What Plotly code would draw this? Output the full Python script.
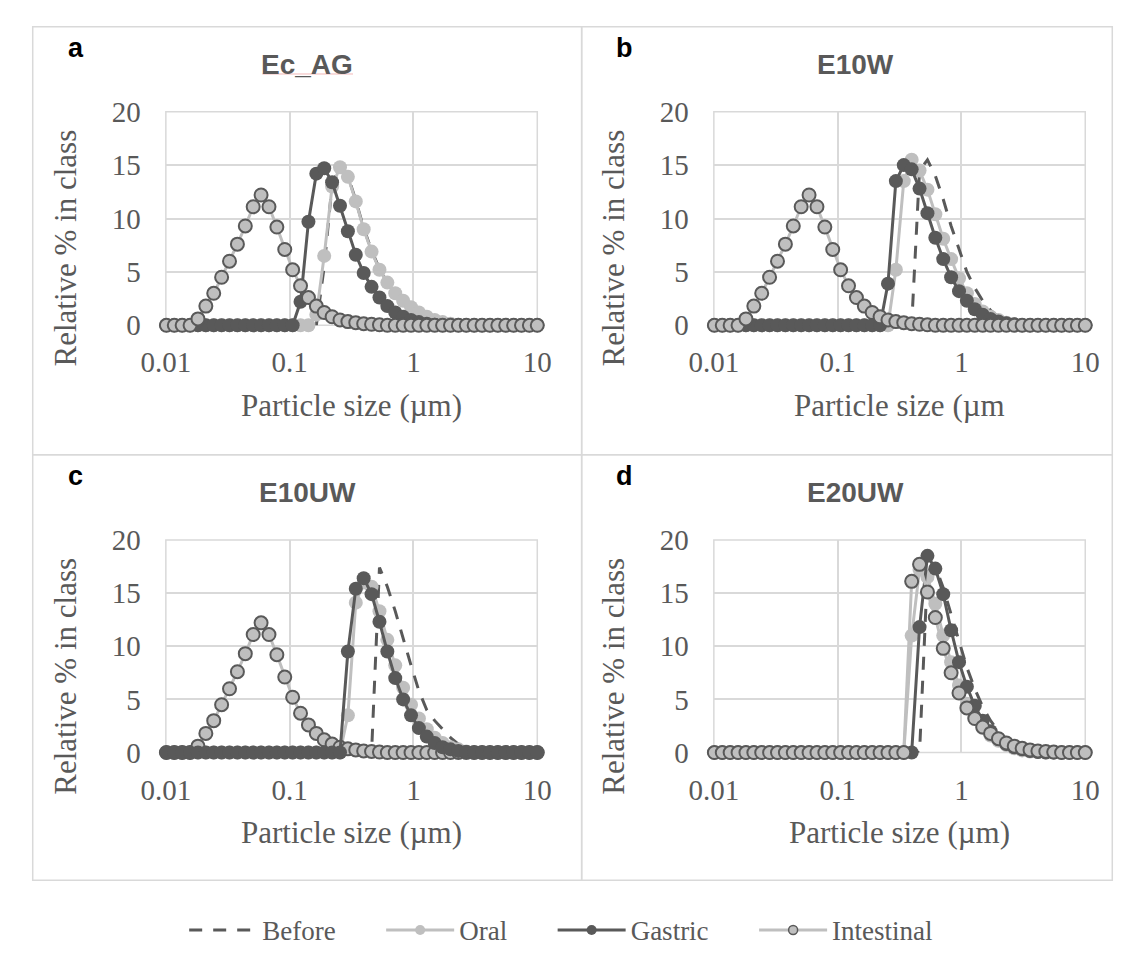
import plotly.graph_objects as go

# Size classes (um) of the particle size analyser, 0.01 - 10 um
size_um = [0.0101, 0.0117, 0.01354, 0.01569, 0.01817, 0.02104, 0.02436, 0.02821,
           0.03267, 0.03784, 0.04382, 0.05075, 0.05877, 0.06806, 0.07882, 0.09128,
           0.1057, 0.1224, 0.1418, 0.1642, 0.1901, 0.2202, 0.2550, 0.2953,
           0.3420, 0.3961, 0.4587, 0.5312, 0.6151, 0.7124, 0.8250, 0.9554,
           1.106, 1.281, 1.484, 1.718, 1.990, 2.305, 2.669, 3.091,
           3.580, 4.145, 4.801, 5.560, 6.439, 7.456, 8.635, 10.0]

def pad(vals, start):
    """Zero-filled distribution over all size classes, nonzero values from index `start`."""
    out = [0.0] * len(size_um)
    for i, v in enumerate(vals):
        out[start + i] = v
    return out

intestinal_small = pad([0.6, 1.8, 3.0, 4.5, 6.0, 7.6, 9.3, 11.1, 12.2, 11.1, 9.2, 7.1, 5.2,
                        3.7, 2.6, 1.8, 1.2, 0.8, 0.5, 0.35, 0.25, 0.15, 0.1, 0.05], 4)

# a: Ec_AG
before_a = pad([5.5, 13.2, 15.0, 14.0, 11.7, 9.1, 7.0, 5.3, 4.0, 3.0, 2.3, 1.7, 1.2,
                0.8, 0.5, 0.3, 0.15, 0.05], 20)
oral_a = pad([1.0, 6.5, 13.0, 14.8, 13.9, 11.6, 9.0, 6.9, 5.2, 4.0, 3.0, 2.3, 1.7, 1.2,
              0.8, 0.5, 0.3, 0.15, 0.05], 19)
gastric_a = pad([2.2, 9.7, 14.2, 14.7, 13.4, 11.2, 8.8, 6.6, 4.9, 3.6, 2.6, 1.8, 1.2,
                 0.8, 0.5, 0.3, 0.15, 0.05], 17)
intestinal_a = intestinal_small

# b: E10W
before_b = pad([14.5, 15.5, 14.0, 11.8, 9.3, 7.1, 5.0, 3.5, 2.3, 1.4, 0.8, 0.4, 0.2, 0.05], 26)
oral_b = pad([5.2, 13.5, 15.5, 14.5, 12.7, 10.4, 8.1, 6.2, 4.4, 3.0, 2.0, 1.3, 0.8, 0.5,
              0.25, 0.1], 23)
gastric_b = pad([3.9, 13.5, 15.0, 14.6, 12.8, 10.5, 8.2, 6.2, 4.5, 3.2, 2.3, 1.5, 1.0,
                 0.6, 0.35, 0.2, 0.1], 22)
intestinal_b = intestinal_small

# c: E10UW
before_c = pad([17.4, 15.6, 13.3, 10.7, 8.2, 5.8, 4.0, 3.0, 2.2, 1.4, 0.8, 0.3, 0.1], 27)
oral_c = pad([3.5, 14.1, 16.0, 15.6, 13.3, 10.6, 8.2, 6.1, 4.5, 3.2, 2.2, 1.4, 0.9, 0.5,
              0.3, 0.1], 23)
gastric_c = pad([9.5, 15.4, 16.4, 14.9, 12.3, 9.5, 7.0, 5.0, 3.5, 2.3, 1.5, 0.9, 0.5,
                 0.3, 0.15, 0.05], 23)
intestinal_c = intestinal_small

# d: E20UW
before_d = pad([17.0, 17.5, 15.5, 13.0, 10.4, 8.0, 6.0, 4.3, 3.0, 2.0, 1.3, 0.8, 0.4,
                0.2, 0.1], 27)
oral_d = pad([11.0, 17.2, 16.5, 14.0, 11.0, 8.5, 6.3, 4.6, 3.3, 2.3, 1.6, 1.1, 0.7, 0.4,
              0.2, 0.1, 0.05], 25)
gastric_d = pad([11.8, 18.5, 17.3, 14.9, 11.5, 8.5, 6.2, 4.4, 3.0, 2.0, 1.3, 0.8, 0.5,
                 0.3, 0.15, 0.05], 26)
intestinal_d = pad([16.1, 17.7, 15.1, 12.7, 9.8, 7.5, 5.6, 4.2, 3.2, 2.4, 1.8, 1.3, 0.9,
                    0.6, 0.4, 0.25, 0.15, 0.1, 0.05], 25)

panel_letters = ["a", "b", "c", "d"]
panel_titles = ["Ec_AG", "E10W", "E10UW", "E20UW"]
x_titles = ["Particle size (\u00b5m)", "Particle size (\u00b5m", "Particle size (\u00b5m)",
            "Particle size (\u00b5m)"]
y_title = "Relative % in class"
x_tickvals = [0.01, 0.1, 1, 10]
x_ticktext = ["0.01", "0.1", "1", "10"]
series_names = ["Before", "Oral", "Gastric", "Intestinal"]
panel_data = [
    [before_a, oral_a, gastric_a, intestinal_a],
    [before_b, oral_b, gastric_b, intestinal_b],
    [before_c, oral_c, gastric_c, intestinal_c],
    [before_d, oral_d, gastric_d, intestinal_d],
]
# drawing order of the series (last one on top)
draw_order = [[0, 1, 2, 3], [0, 1, 2, 3], [0, 1, 3, 2], [0, 1, 2, 3]]

W, H = 1135, 958
DARK = "#595959"
LIGHT = "#BFBFBF"
GRID = "#D9D9D9"
SERIF = "Liberation Serif, Times New Roman, serif"
SANS = "Liberation Sans, Arial, sans-serif"
NB = "\u00a0"

def px(x):
    return x / W

def py(y):
    return 1 - y / H

# frame of each chart (left, top, right, bottom) and its plot area, in pixels
frames = [(8, 11, 577, 454), (577, 11, 1127, 454), (8, 454, 577, 894), (577, 454, 1127, 894)]
plots = [(146, 99, 531, 320), (714, 99, 1099, 320), (146, 542, 531, 762), (714, 542, 1099, 762)]

def style(s, msize, mline):
    if s == 0:
        return dict(mode="lines", line=dict(color=DARK, width=3, dash="13px,11px"))
    if s == 1:
        return dict(mode="lines+markers", line=dict(color=LIGHT, width=3),
                    marker=dict(symbol="circle", size=msize, color=LIGHT, line=dict(width=0)))
    if s == 2:
        return dict(mode="lines+markers", line=dict(color=DARK, width=3),
                    marker=dict(symbol="circle", size=msize, color=DARK, line=dict(width=0)))
    return dict(mode="lines+markers", line=dict(color=LIGHT, width=3),
                marker=dict(symbol="circle", size=msize - 1, color=LIGHT,
                            line=dict(color=DARK, width=mline)))

# legend labels, padded so entries are spaced like the original key
legend_labels = ["Before" + NB * 6, "Oral" + NB * 6, "Gastric" + NB * 6, "Intestinal"]

fig = go.Figure()
annotations = []
shapes = []

for k in range(4):
    ax = "" if k == 0 else str(k + 1)
    for s in draw_order[k]:
        fig.add_trace(go.Scatter(
            x=size_um, y=panel_data[k][s], name=series_names[s],
            xaxis="x" + ax, yaxis="y" + ax, showlegend=False,
            cliponaxis=False, **style(s, 14, 2)))
    l, t, r, b = plots[k]
    fig.update_layout(**{
        "xaxis" + ax: dict(
            type="log", range=[-2, 1], domain=[px(l), px(r)], anchor="y" + ax,
            tickvals=x_tickvals, ticktext=x_ticktext, showgrid=True, gridcolor=GRID,
            gridwidth=1.5, zeroline=False, showline=False, ticks="",
            ticklabelstandoff=17,
            tickfont=dict(family=SERIF, size=29, color=DARK)),
        "yaxis" + ax: dict(
            range=[0, 20], dtick=5, domain=[py(b), py(t)], anchor="x" + ax,
            showgrid=True, gridcolor=GRID, gridwidth=1.5, zeroline=False, showline=False,
            ticks="", ticklabelstandoff=24,
            tickfont=dict(family=SERIF, size=29, color=DARK)),
    })
    # plot-area outline (edge gridlines)
    shapes.append(dict(type="rect", xref="paper", yref="paper", x0=px(l), x1=px(r),
                       y0=py(b), y1=py(t), line=dict(color=GRID, width=1.5), layer="below"))
    fl, ft, fr, fb = frames[k]
    shapes.append(dict(type="rect", xref="paper", yref="paper", x0=px(fl), x1=px(fr),
                       y0=py(fb), y1=py(ft), line=dict(color=GRID, width=1.5), layer="below"))
    annotations.append(dict(text="<b>%s</b>" % panel_letters[k], xref="paper", yref="paper",
                            x=px(l - 104), y=py(t - 66), xanchor="left", yanchor="middle",
                            showarrow=False, font=dict(family=SANS, size=27, color="black")))
    annotations.append(dict(text="<b>%s</b>" % panel_titles[k], xref="paper", yref="paper",
                            x=px(l + 146.5), y=py(t - 49), xanchor="center",
                            yanchor="middle", showarrow=False,
                            font=dict(family=SANS, size=28, color=DARK)))
    annotations.append(dict(text=x_titles[k], xref="paper", yref="paper",
                            x=px((l + r) / 2), y=py(b + 83), xanchor="center",
                            yanchor="middle", showarrow=False,
                            font=dict(family=SERIF, size=31, color=DARK)))
    annotations.append(dict(text=y_title, xref="paper", yref="paper", textangle=-90,
                            x=px(l - 104), y=py(t + 141), xanchor="center",
                            yanchor="middle", showarrow=False,
                            font=dict(family=SERIF, size=31, color=DARK)))

# legend key entries (smaller symbols than on the plot)
for s in range(4):
    fig.add_trace(go.Scatter(x=[None], y=[None], name=legend_labels[s], showlegend=True,
                             legendrank=s + 1, **style(s, 10, 1.5)))

# spell-check squiggle under the first chart title
shapes.append(dict(type="line", xref="paper", yref="paper", x0=px(246), x1=px(340),
                   y0=py(60), y1=py(60), line=dict(color="#F2B8B8", width=1)))

fig.update_layout(
    width=W, height=H, margin=dict(l=0, r=0, t=0, b=0),
    paper_bgcolor="white", plot_bgcolor="white",
    annotations=annotations, shapes=shapes,
    legend=dict(orientation="h", x=px(165), xanchor="left", y=py(946), yanchor="middle",
                font=dict(family=SERIF, size=27, color=DARK), itemwidth=68,
                traceorder="normal", bgcolor="rgba(0,0,0,0)"),
)

fig.write_html("out.html")
